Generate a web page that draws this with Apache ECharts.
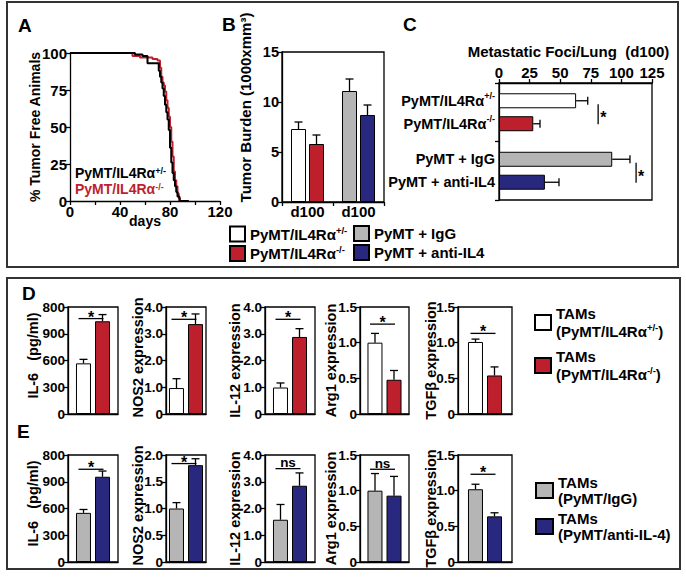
<!DOCTYPE html>
<html><head><meta charset="utf-8">
<script src="https://cdn.jsdelivr.net/npm/echarts@6/dist/echarts.min.js"></script>
<style>html,body{margin:0;padding:0;background:#fff}#c{width:686px;height:587px}</style>
</head><body><div id="c"></div>
<script>
// ---------------- data ----------------
// Panel A: Kaplan-Meier (days, % tumor free)
const survDaysHet = [0, 52, 58, 62, 71, 72, 73, 74, 75, 76, 77, 78, 79, 80, 81, 82, 83, 84, 85, 86, 87.5, 95];
const survPctHet  = [100, 99, 98, 93, 88, 84, 80, 76, 71, 65, 60, 55, 48, 36, 26, 19, 14, 10, 6, 3, 0, 0];
const survDaysKo  = [0, 50, 56, 66, 70, 72, 73, 74, 75, 76, 77, 78, 79, 80, 81, 82, 83, 84, 85, 86, 87, 88, 95];
const survPctKo   = [100, 98, 97, 96, 95, 90, 84, 80, 78, 74, 68, 63, 57, 50, 40, 30, 20, 14, 10, 5, 2, 0, 0];
const survXTicks = ['0', '', '40', '', '80', '', '120'];
const survYTicks = ['0', '25', '50', '75', '100'];

// Panel B: tumor burden
const burdenCategories = ['d100', 'd100'];
const burdenGenotype = [7.3, 5.8];      // +/- , -/-
const burdenGenotypeErr = [0.7, 0.9];
const burdenAntibody = [11.1, 8.7];     // IgG , anti-IL4
const burdenAntibodyErr = [1.2, 1.0];
const burdenTicks = ['0', '5', '10', '15'];

// Panel C: metastatic foci
const fociGroups = ['genotype', 'antibody'];
const fociGenotype = [63, 28];
const fociGenotypeErr = [9.5, 5.5];
const fociAntibody = [92.5, 37.5];
const fociAntibodyErr = [14.5, 11.5];
const fociSigX = [81, 112];
const fociSig = ['*', '*'];
const fociTicks = ['0', '25', '50', '75', '100', '125'];

const nameGenotype = ['PyMT/IL4Rα+/-', 'PyMT/IL4Rα-/-'];
const nameAntibody = ['PyMT + IgG', 'PyMT + anti-IL4'];

// Panels D & E
const deTitles = ['IL-6   (pg/ml)', 'NOS2 expression', 'IL-12 expression', 'Arg1 expression', 'TGFβ expression'];
const deCategory = ['TAMs'];
const dCtrl = [568, 0.97, 0.99, 1.0, 1.01];
const dCtrlErr = [45, 0.35, 0.17, 0.13, 0.04];
const dTreat = [1040, 3.36, 2.88, 0.48, 0.54];
const dTreatErr = [75, 0.38, 0.31, 0.13, 0.12];
const dSig = ['*', '*', '*', '*', '*'];
const dSigY = [1070, 3.54, 3.54, 1.26, 1.13];
const dTicks = [['0','300','600','900','800'], ['0','1.0','2.0','3.0','4.0'], ['0','1.0','2.0','3.0','4.0'], ['0','0.5','1.0','1.5'], ['0','0.5','1.0','1.5']];
const dStep = [300, 1, 1, 0.5, 0.5];

const eCtrl = [551, 1.0, 1.58, 1.0, 1.02];
const eCtrlErr = [38, 0.11, 0.57, 0.24, 0.07];
const eTreat = [956, 1.81, 2.85, 0.93, 0.64];
const eTreatErr = [64, 0.12, 0.48, 0.27, 0.05];
const eSig = ['*', '*', 'ns', 'ns', '*'];
const eSigY = [1040, 1.84, 3.49, 1.3, 1.23];
const eTicks = [['0','300','600','900','800'], ['0','0.5','1.0','1.5','2.0'], ['0','1.0','2.0','3.0','4.0'], ['0','0.5','1.0','1.5'], ['0','0.5','1.0','1.5']];
const eStep = [300, 0.5, 1, 0.5, 0.5];

const nameD = ['TAMs\n(PyMT/IL4Rα+/-)', 'TAMs\n(PyMT/IL4Rα-/-)'];
const nameE = ['TAMs\n(PyMT/IgG)', 'TAMs\n(PyMT/anti-IL-4)'];

// ---------------- style ----------------
const FONT = '"Liberation Sans", Arial, Helvetica, sans-serif';
const RED = '#bd1f2d', BLUE = '#29287f', GRAY = '#b5b5b5', WHITE = '#ffffff', BLACK = '#000000';
const LW = 1.3;
const SURV_PREFIX = 'survival: ';

function fmtRich(name, main, sup) {
  return name.split('\n').map(line => {
    const m = line.match(/^(.*Rα)(\+\/-|-\/-)(.*)$/);
    if (!m) return '{' + main + '|' + line + '}';
    return '{' + main + '|' + m[1] + '}{' + sup + '|' + m[2] + '}' + (m[3] ? '{' + main + '|' + m[3] + '}' : '');
  }).join('\n');
}
function tok(size, color, lh, top) {
  const t = {fontSize: size, fontWeight: 'bold', fontFamily: FONT, color: color, lineHeight: lh};
  if (top) t.verticalAlign = 'top';
  return t;
}

const grids = [], xAxes = [], yAxes = [], series = [], legends = [];
function addGrid(g) {
  grids.push(Object.assign({outerBoundsMode: 'none', containLabel: false}, g));
  return grids.length - 1;
}
const axisLine = {show: true, onZero: false, lineStyle: {color: BLACK, width: LW}};
const axisTick = {show: true, inside: false, length: 4, lineStyle: {color: BLACK, width: LW}};
function lbl(size, fmt, margin) {
  return {show: true, fontSize: size, fontWeight: 'bold', fontFamily: FONT, color: BLACK, margin: margin, formatter: fmt};
}
function nameStyle(size, pad) {
  const s = {fontSize: size, fontWeight: 'bold', fontFamily: FONT, color: BLACK};
  if (pad) s.padding = pad;
  return s;
}

function vErr(gi, vals, errs, offset, cap) {
  return {
    type: 'custom', xAxisIndex: gi, yAxisIndex: gi, z: 4, silent: true,
    data: vals.map((v, i) => (v == null ? null : [i, v, v + errs[i]])).filter(d => d),
    encode: {x: 0, y: [1, 2]},
    renderItem: (params, api) => {
      const lo = api.coord([api.value(0), api.value(1)]);
      const hi = api.coord([api.value(0), api.value(2)]);
      const x = lo[0] + offset;
      return {type: 'group', children: [
        {type: 'line', shape: {x1: x, y1: lo[1], x2: x, y2: hi[1]}, style: {stroke: BLACK, lineWidth: LW}},
        {type: 'line', shape: {x1: x - cap, y1: hi[1], x2: x + cap, y2: hi[1]}, style: {stroke: BLACK, lineWidth: LW}}
      ]};
    }
  };
}
function hErr(gi, vals, errs, offset, cap) {
  return {
    type: 'custom', xAxisIndex: gi, yAxisIndex: gi, z: 4, silent: true,
    data: vals.map((v, i) => [v, i, v + errs[i]]),
    encode: {x: [0, 2], y: 1},
    renderItem: (params, api) => {
      const lo = api.coord([api.value(0), api.value(1)]);
      const hi = api.coord([api.value(2), api.value(1)]);
      const y = lo[1] + offset;
      return {type: 'group', children: [
        {type: 'line', shape: {x1: lo[0], y1: y, x2: hi[0], y2: y}, style: {stroke: BLACK, lineWidth: LW}},
        {type: 'line', shape: {x1: hi[0], y1: y - cap, x2: hi[0], y2: y + cap}, style: {stroke: BLACK, lineWidth: LW}}
      ]};
    }
  };
}
function sigH(gi, level, text, half, shift) {
  return {
    type: 'custom', xAxisIndex: gi, yAxisIndex: gi, z: 5, silent: true,
    data: [[0, level]], encode: {x: 0, y: 1},
    renderItem: (params, api) => {
      const p = api.coord([api.value(0), api.value(1)]);
      const cx = p[0] + shift;
      const star = text === '*';
      return {type: 'group', children: [
        {type: 'line', shape: {x1: cx - half, y1: p[1], x2: cx + half, y2: p[1]}, style: {stroke: BLACK, lineWidth: LW}},
        {type: 'text', x: cx, y: p[1] + (star ? -1.5 : -6),
         style: {text: text, fontSize: star ? 16 : 13.5, fontWeight: 'bold', fontFamily: FONT, fill: BLACK, align: 'center', verticalAlign: 'middle'}}
      ]};
    }
  };
}

// ---------------- Panel A ----------------
let gi = addGrid({left: 70, top: 53, width: 150, height: 148});
xAxes.push({gridIndex: gi, type: 'value', min: 0, max: 120, interval: 20, axisLine, axisTick,
  splitLine: {show: false}, axisLabel: lbl(15, (v, i) => survXTicks[i], 3),
  name: 'days', nameLocation: 'middle', nameGap: 13, nameMoveOverlap: false, nameTextStyle: nameStyle(14)});
yAxes.push({gridIndex: gi, type: 'value', min: 0, max: 100, interval: 25, axisLine, axisTick,
  splitLine: {show: false}, axisLabel: lbl(15, (v, i) => survYTicks[i], 3),
  name: '% Tumor Free Animals', nameLocation: 'middle', nameGap: 28, nameMoveOverlap: false, nameTextStyle: nameStyle(14)});
series.push({type: 'line', name: SURV_PREFIX + nameGenotype[1], xAxisIndex: gi, yAxisIndex: gi, step: 'end',
  showSymbol: false, symbol: 'none', data: survDaysKo.map((d, i) => [d, survPctKo[i]]),
  lineStyle: {color: RED, width: 2}, itemStyle: {color: RED}, z: 2});
series.push({type: 'line', name: SURV_PREFIX + nameGenotype[0], xAxisIndex: gi, yAxisIndex: gi, step: 'end',
  showSymbol: false, symbol: 'none', data: survDaysHet.map((d, i) => [d, survPctHet[i]]),
  lineStyle: {color: BLACK, width: 2}, itemStyle: {color: BLACK}, z: 3});
legends.push({left: 70, top: 166, padding: 0, orient: 'vertical', icon: 'none', itemWidth: 0, itemHeight: 13, itemGap: 2,
  selectedMode: false,
  data: [{name: SURV_PREFIX + nameGenotype[0]}, {name: SURV_PREFIX + nameGenotype[1]}],
  formatter: n => {
    const s = n.replace(SURV_PREFIX, '');
    return s === nameGenotype[0] ? fmtRich(s, 'k', 'ks') : fmtRich(s, 'r', 'rs');
  },
  textStyle: {rich: {k: tok(14, BLACK, 13), ks: tok(9, BLACK, 8, true), r: tok(14, RED, 13), rs: tok(9, RED, 8, true)}}});

// ---------------- Panel B ----------------
const barStyle = c => ({color: c, borderColor: BLACK, borderWidth: 1});
gi = addGrid({left: 282, top: 52, width: 102, height: 150, show: true, borderColor: BLACK, borderWidth: LW});
xAxes.push({gridIndex: gi, type: 'category', data: burdenCategories, axisLine,
  axisTick: Object.assign({}, axisTick, {alignWithLabel: false, interval: 0}),
  axisLabel: lbl(15, null, 2)});
yAxes.push({gridIndex: gi, type: 'value', min: 0, max: 15, interval: 5, axisLine, axisTick,
  splitLine: {show: false}, axisLabel: lbl(14.5, (v, i) => burdenTicks[i], 3),
  name: 'Tumor Burden (1000xmm³)', nameLocation: 'middle', nameGap: 29, nameMoveOverlap: false,
  nameTextStyle: nameStyle(15, [0, 0, 0, 39])});
const bB = {type: 'bar', xAxisIndex: gi, yAxisIndex: gi, barWidth: 15, barGap: '20%'};
series.push(Object.assign({}, bB, {name: nameGenotype[0], stack: 'b1', data: [burdenGenotype[0], '-'], itemStyle: barStyle(WHITE)}));
series.push(Object.assign({}, bB, {name: nameAntibody[0], stack: 'b1', data: ['-', burdenAntibody[0]], itemStyle: barStyle(GRAY)}));
series.push(Object.assign({}, bB, {name: nameGenotype[1], stack: 'b2', data: [burdenGenotype[1], '-'], itemStyle: barStyle(RED)}));
series.push(Object.assign({}, bB, {name: nameAntibody[1], stack: 'b2', data: ['-', burdenAntibody[1]], itemStyle: barStyle(BLUE)}));
series.push(vErr(gi, [burdenGenotype[0], burdenAntibody[0]], [burdenGenotypeErr[0], burdenAntibodyErr[0]], -9, 4));
series.push(vErr(gi, [burdenGenotype[1], burdenAntibody[1]], [burdenGenotypeErr[1], burdenAntibodyErr[1]], 9, 4));

// ---------------- Panel C ----------------
gi = addGrid({left: 499, top: 83, width: 153, height: 117, show: true, borderColor: BLACK, borderWidth: LW});
xAxes.push({gridIndex: gi, type: 'value', position: 'top', min: 0, max: 125, interval: 25, axisLine, axisTick,
  splitLine: {show: false}, axisLabel: lbl(15, (v, i) => fociTicks[i], 3),
  name: 'Metastatic Foci/Lung  (d100)', nameLocation: 'middle', nameGap: 24, nameMoveOverlap: false,
  nameTextStyle: nameStyle(15, [0, 14, 0, 0])});
yAxes.push({gridIndex: gi, type: 'category', inverse: true, data: fociGroups, axisLine,
  axisTick: Object.assign({}, axisTick, {alignWithLabel: false, interval: 0}),
  axisLabel: {show: false}});
const cRich = {c: tok(14.5, BLACK, 18), s: tok(9, BLACK, 10, true)};
const cLabel = {show: true, position: 'left', distance: 4, color: BLACK,
  formatter: p => fmtRich(p.seriesName, 'c', 's'), rich: cRich};
const bC = {type: 'bar', xAxisIndex: gi, yAxisIndex: gi, barWidth: 15, barGap: '53%', label: cLabel};
series.push(Object.assign({}, bC, {name: nameGenotype[0], stack: 'c1', data: [fociGenotype[0], '-'], itemStyle: barStyle(WHITE)}));
series.push(Object.assign({}, bC, {name: nameAntibody[0], stack: 'c1', data: ['-', fociAntibody[0]], itemStyle: barStyle(GRAY)}));
series.push(Object.assign({}, bC, {name: nameGenotype[1], stack: 'c2', data: [fociGenotype[1], '-'], itemStyle: barStyle(RED)}));
series.push(Object.assign({}, bC, {name: nameAntibody[1], stack: 'c2', data: ['-', fociAntibody[1]], itemStyle: barStyle(BLUE)}));
series.push(hErr(gi, [fociGenotype[0], fociAntibody[0]], [fociGenotypeErr[0], fociAntibodyErr[0]], -11.5, 4));
series.push(hErr(gi, [fociGenotype[1], fociAntibody[1]], [fociGenotypeErr[1], fociAntibodyErr[1]], 11.5, 4));
series.push({type: 'custom', xAxisIndex: gi, yAxisIndex: gi, z: 5, silent: true,
  data: fociSigX.map((x, i) => [x, i]), encode: {x: 0, y: 1},
  renderItem: (params, api) => {
    const p = api.coord([api.value(0), api.value(1)]);
    return {type: 'group', children: [
      {type: 'line', shape: {x1: p[0], y1: p[1] - 8, x2: p[0], y2: p[1] + 12}, style: {stroke: BLACK, lineWidth: LW}},
      {type: 'text', x: p[0] + 2, y: p[1] + 5.5, style: {text: fociSig[params.dataIndex], fontSize: 16, fontWeight: 'bold',
        fontFamily: FONT, fill: BLACK, align: 'left', verticalAlign: 'middle'}}
    ]};
  }});

const legRich15 = {m: tok(15, BLACK, 18), s: tok(9.5, BLACK, 10, true)};
legends.push({left: 229, top: 225, padding: 0, orient: 'vertical', icon: 'rect', itemWidth: 15, itemHeight: 15, itemGap: 2,
  selectedMode: false, data: nameGenotype, formatter: n => fmtRich(n, 'm', 's'), textStyle: {rich: legRich15}});
legends.push({left: 353, top: 225, padding: 0, orient: 'vertical', icon: 'rect', itemWidth: 15, itemHeight: 15, itemGap: 2,
  selectedMode: false, data: nameAntibody, formatter: n => fmtRich(n, 'm', 's'), textStyle: {rich: legRich15}});

// ---------------- Panels D & E ----------------
const deLeft = [68, 166, 265, 360, 458];
const deWidth = [50, 40, 50, 49, 54];
const deNameGap = [28, 21, 23, 22, 20];
const deNamePad = [[0, 0, 0, 10], [0, 0, 0, 6], null, null, null];
function buildRow(top, ctrl, ctrlErr, treat, treatErr, sig, sigY, ticks, step, names, colors) {
  for (let i = 0; i < 5; i++) {
    const g = addGrid({left: deLeft[i], top: top, width: deWidth[i], height: 107, show: true, borderColor: BLACK, borderWidth: LW});
    xAxes.push({gridIndex: g, type: 'category', data: deCategory, axisLine, axisTick: {show: false}, axisLabel: {show: false}});
    yAxes.push({gridIndex: g, type: 'value', min: 0, max: step[i] * (ticks[i].length - 1), interval: step[i],
      axisLine, axisTick, splitLine: {show: false}, axisLabel: lbl(13.5, (v, k) => ticks[i][k], 3),
      name: deTitles[i], nameLocation: 'middle', nameGap: deNameGap[i], nameMoveOverlap: false,
      nameTextStyle: nameStyle(14.5, deNamePad[i])});
    const b = {type: 'bar', xAxisIndex: g, yAxisIndex: g, barWidth: 15, barGap: '27%'};
    series.push(Object.assign({}, b, {name: names[0], data: [ctrl[i]], itemStyle: barStyle(colors[0])}));
    series.push(Object.assign({}, b, {name: names[1], data: [treat[i]], itemStyle: barStyle(colors[1])}));
    series.push(vErr(g, [ctrl[i]], [ctrlErr[i]], -9.5, 4));
    series.push(vErr(g, [treat[i]], [treatErr[i]], 9.5, 4));
    series.push(sigH(g, sigY[i], sig[i], 12.5, -2));
  }
}
buildRow(307, dCtrl, dCtrlErr, dTreat, dTreatErr, dSig, dSigY, dTicks, dStep, nameD, [WHITE, RED]);
buildRow(455, eCtrl, eCtrlErr, eTreat, eTreatErr, eSig, eSigY, eTicks, eStep, nameE, [GRAY, BLUE]);

legends.push({left: 534, top: 306, padding: 0, orient: 'vertical', icon: 'rect', itemWidth: 16, itemHeight: 15, itemGap: 10,
  selectedMode: false, data: nameD, formatter: n => fmtRich(n, 'm', 's'), textStyle: {rich: legRich15}});
legends.push({left: 535, top: 475, padding: 0, orient: 'vertical', icon: 'rect', itemWidth: 17, itemHeight: 15, itemGap: 5,
  selectedMode: false, data: nameE, formatter: n => fmtRich(n, 'm', 's'),
  textStyle: {rich: {m: tok(15, BLACK, 16), s: tok(9.5, BLACK, 9, true)}}});

// ---------------- frames and panel letters ----------------
const letter = (t, x, y) => ({type: 'text', x: x, y: y, silent: true,
  style: {text: t, fontSize: 19, fontWeight: 'bold', fontFamily: FONT, fill: BLACK, align: 'left', verticalAlign: 'top'}});
const graphic = [
  {type: 'rect', silent: true, shape: {x: 7, y: 2, width: 671, height: 265}, style: {fill: 'none', stroke: '#333', lineWidth: 2}},
  {type: 'rect', silent: true, shape: {x: 7, y: 278, width: 673, height: 291}, style: {fill: 'none', stroke: '#333', lineWidth: 2}},
  letter('A', 18, 16), letter('B', 222, 15), letter('C', 403, 15), letter('D', 22, 284), letter('E', 17, 422)
];

const chart = echarts.init(document.getElementById('c'), null, {renderer: 'svg', width: 686, height: 587});
chart.setOption({
  animation: false,
  backgroundColor: '#fff',
  textStyle: {fontFamily: FONT, fontWeight: 'bold', color: BLACK},
  grid: grids, xAxis: xAxes, yAxis: yAxes, series: series, legend: legends, graphic: graphic
});
</script></body></html>
